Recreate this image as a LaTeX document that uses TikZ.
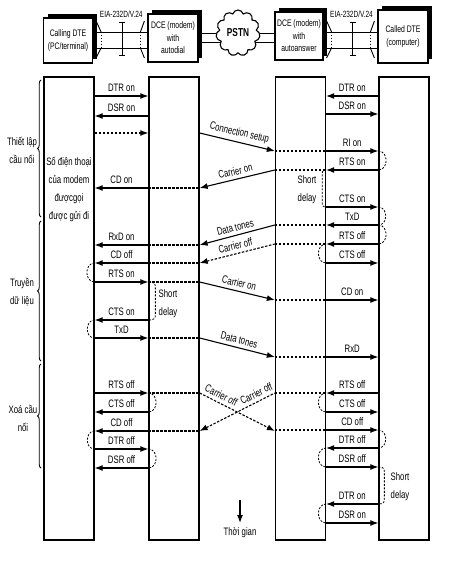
\documentclass[tikz,border=0pt]{standalone}
\usepackage{fontspec}
\setmainfont{Liberation Sans}[FakeStretch=0.72]
\usetikzlibrary{arrows.meta,positioning,calc,shapes.symbols,shadows,backgrounds,decorations.pathreplacing}

\tikzset{
  col/.style={draw, line width=1.3pt, minimum width=50, minimum height=463, inner sep=0pt},
  box/.style={draw, fill=white, line width=1.2pt, inner sep=0pt, align=center,
    font=\fontsize{9.5}{12.5}\selectfont,
    drop shadow={shadow xshift=4pt, shadow yshift=4pt, fill=black, opacity=1}},
  wire/.style={line width=0.9pt},
  sig/.style={line width=1.1pt},
  dsh/.style={sig, dash pattern=on 2.5pt off 1.5pt},
  swing/.style={line width=0.8pt, dash pattern=on 2pt off 1.5pt},
  toR/.style={-{Latex[length=8pt,width=6pt]}},
  toL/.style={{Latex[length=8pt,width=6pt]}-},
  lbl/.style={font=\fontsize{10.8}{12}\selectfont, inner sep=1pt, above=2.5pt},
  txt/.style={align=center, font=\fontsize{10.8}{18}\selectfont, inner sep=0pt}
}

% EIA-232D/V.24 cable between two boxes
\def\cable(#1,#2){
  \draw[wire] (#1.east |- 0,32) -- (#2.west |- 0,32) (#1.east |- 0,48) -- (#2.west |- 0,48);
  \draw[wire] ($(#1.east |- 0,21)+(3,0)$) -- ($(#1.east |- 0,32)+(8,0)$)
              ($(#1.east |- 0,48)+(8,0)$) -- ($(#1.east |- 0,58)+(3,0)$);
  \draw[wire] ($(#2.west |- 0,21)+(-3,0)$) -- ($(#2.west |- 0,32)+(-7,0)$)
              ($(#2.west |- 0,48)+(-7,0)$) -- ($(#2.west |- 0,58)+(-3,0)$);
  \draw[wire, dotted] ($(#1.east |- 0,32)+(8,0)$) -- ($(#1.east |- 0,48)+(8,0)$)
              ($(#2.west |- 0,32)+(-7,0)$) -- ($(#2.west |- 0,48)+(-7,0)$);
  \coordinate (m) at ($(#1.east)!0.5!(#2.west)+(2,0)$);
  \draw[wire] (m |- 0,22) -- (m |- 0,55)
              ($(m |- 0,22)+(-3,0)$) -- ($(m |- 0,22)+(3,0)$)
              ($(m |- 0,55)+(-3,0)$) -- ($(m |- 0,55)+(3,0)$);
  \node[font=\fontsize{9}{10}\selectfont, inner sep=0pt] at ($(m |- 0,14)+(-1,0)$) {EIA-232D/V.24};
}

% dashed "short delay" bracket on a column edge
\def\delay(#1,#2,#3)#4{
  \draw[swing] (#1 |- 0,#2) .. controls +(#4,0) and +(0,-4) .. ($(#1 |- 0,#2)+(#4,6)$)
    -- ($(#1 |- 0,#3)+(#4,-6)$) .. controls +(0,4) and +(#4,0) .. (#1 |- 0,#3);
}

\begin{document}
\begin{tikzpicture}[x=1pt,y=-1pt]
  \useasboundingbox (0,0) rectangle (452,562);

  % stations
  \node[box, minimum width=49, minimum height=45] (dte1) at (68,40.5) {Calling DTE\\(PC/terminal)};
  \node[box, minimum width=50, minimum height=48] (dce1) at (173,38) {DCE (modem)\\with\\autodial};
  \node[box, minimum width=48, minimum height=48] (dce2) at (299,36) {DCE (modem)\\with\\autoanswer};
  \node[box, minimum width=50, minimum height=53] (dte2) at (403,36.5) {Called DTE\\(computer)};
  \node[cloud, draw, fill=white, line width=1.1pt, cloud puffs=11, aspect=1,
        minimum width=44, minimum height=46, inner sep=0pt,
        font=\bfseries\fontsize{11.5}{12}\selectfont] (pstn) at (238,33) {PSTN};
  \begin{scope}[on background layer]
    \draw[wire] (dce1.east |- 0,33) -- (pstn.center |- 0,33) (dce1.east |- 0,42) -- (pstn.center |- 0,42);
    \draw[wire] (pstn.center |- 0,33) -- (dce2.west |- 0,33) (pstn.center |- 0,42) -- (dce2.west |- 0,42);
  \end{scope}
  \cable(dte1,dce1)
  \cable(dce2,dte2)

  % time lines
  \node[col] (c1) at (69,308.5) {};
  \node[col] (c2) at (174,308.5) {};
  \node[col] (c3) at (300.5,308.5) {};
  \node[col] (c4) at (404,308.5) {};
  \node[txt] (dial) at (69,189) {Số điện thoại\\của modem\\đượcgọi\\được gửi đi};

  % phases
  \draw[line width=0.9pt, decorate, decoration={brace, amplitude=3.5pt}] (41,217) -- (41,80);
  \draw[line width=0.9pt, decorate, decoration={brace, amplitude=3.5pt}] (41,361) -- (41,221);
  \draw[line width=0.9pt, decorate, decoration={brace, amplitude=3.5pt}] (41,468) -- (41,364);
  \node[txt] (ph1) at (22,150) {Thiết lập\\cầu nối};
  \node[txt] (ph2) at (22,292) {Truyền\\dữ liệu};
  \node[txt] (ph3) at (23,418) {Xoá cầu\\nối};

  % calling side
  \foreach \y/\dir/\lab in {96/toR/DTR on, 116/toL/DSR on, 188/toL/CD on, 245/toL/RxD on,
      263/toL/CD off, 282/toR/RTS on, 320/toL/CTS on, 338/toR/TxD, 393/toR/RTS off,
      412/toL/CTS off, 431/toL/CD off, 449/toR/DTR off, 468/toL/DSR off}
    \draw[sig,\dir] (c1.east |- 0,\y) -- node[lbl]{\lab} (c2.west |- 0,\y);
  \draw[dsh,toR] (c1.east |- 0,133) -- (c2.west |- 0,133);

  % called side
  \foreach \y/\dir/\lab in {96/toL/DTR on, 114/toR/DSR on, 151/toR/RI on, 170/toL/RTS on,
      207/toR/CTS on, 225/toL/TxD, 244/toL/RTS off, 263/toR/CTS off, 300/toR/CD on,
      357/toR/RxD, 393/toL/RTS off, 412/toR/CTS off, 430/toR/CD off, 448/toL/DTR off,
      467/toR/DSR off, 504/toL/DTR on, 523/toR/DSR on}
    \draw[sig,\dir] (c3.east |- 0,\y) -- node[lbl]{\lab} (c4.west |- 0,\y);

  % through the modems
  \foreach \y in {188,245,263,282,338,393,431}
    \draw[dsh] (c2.west |- 0,\y) -- (c2.east |- 0,\y);
  \foreach \y in {151,170,225,244,300,357,393,430}
    \draw[dsh] (c3.west |- 0,\y) -- (c3.east |- 0,\y);

  % line signals
  \foreach \ya/\yb/\dir/\s/\lab in {133/151/toR/sig/Connection setup, 188/170/toL/sig/Carrier on,
      245/225/toL/sig/Data tones, 263/244/toL/dsh/Carrier off, 282/300/toR/sig/Carrier on,
      338/357/toR/sig/Data tones}
    \draw[\s,\dir] (c2.east |- 0,\ya) -- node[lbl,sloped]{\lab} (c3.west |- 0,\yb);
  \draw[dsh,toR] (c2.east |- 0,393) -- node[lbl,sloped,pos=0.24]{Carrier off} (c3.west |- 0,431);
  \draw[dsh,toL] (c2.east |- 0,431) -- node[lbl,sloped,pos=0.8]{Carrier off} (c3.west |- 0,393);

  % handshakes
  \foreach \ya/\yb in {151/170,207/225,225/244,430/448}
    \draw[swing] (c4.west |- 0,\ya) to[out=0,in=0,looseness=1.4] (c4.west |- 0,\yb);
  \foreach \ya/\yb in {244/263,393/412,448/467,504/523}
    \draw[swing] (c3.east |- 0,\ya) to[out=180,in=180,looseness=1.4] (c3.east |- 0,\yb);
  \foreach \ya/\yb in {263/282,320/338,431/449}
    \draw[swing] (c1.east |- 0,\ya) to[out=180,in=180,looseness=1.4] (c1.east |- 0,\yb);
  \foreach \ya/\yb in {393/412,449/468}
    \draw[swing] (c2.west |- 0,\ya) to[out=0,in=0,looseness=1.4] (c2.west |- 0,\yb);

  \delay(c3.east,170,207){-4}
  \delay(c2.west,282,320){7}
  \delay(c4.west,467,504){6}
  \node[txt] (sd1) at (307,189.5) {Short\\delay};
  \node[txt] (sd2) at (168,303.5) {Short\\delay};
  \node[txt] (sd3) at (400,486.5) {Short\\delay};

  % time
  \coordinate (t0) at (240,500);
  \coordinate (t1) at (240,523);
  \draw[sig,toR] (t0) -- (t1);
  \node[txt, below=4pt of t1] (tg) {Thời gian};
\end{tikzpicture}
\end{document}
